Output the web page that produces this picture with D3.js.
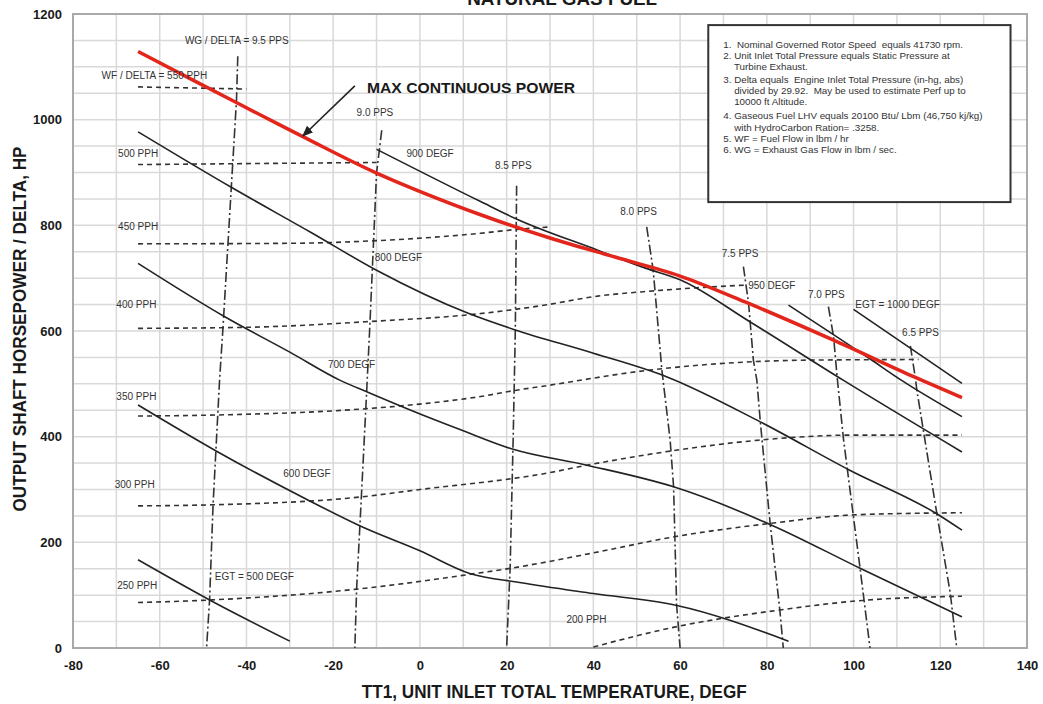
<!DOCTYPE html>
<html>
<head>
<meta charset="utf-8">
<style>
  body { margin: 0; background: #fff; }
  svg { font-family: "Liberation Sans", Arial, sans-serif; display: block; }
  .grid line { stroke: #d9d9d9; stroke-width: 1.5; }
  .axis text { font-size: 13px; font-weight: bold; fill: #1a1a1a; }
  .egt { fill: none; stroke: #222; stroke-width: 1.6; }
  .wf { fill: none; stroke: #333; stroke-width: 1.6; stroke-dasharray: 5,4; }
  .wg { fill: none; stroke: #333; stroke-width: 1.6; stroke-dasharray: 10,3,2,3; }
  .mcp { fill: none; stroke: #e3261c; stroke-width: 3.5; }
  .lbl { font-size: 10px; fill: #333; }
  .note { font-size: 9.8px; fill: #333; }
  .title { font-weight: bold; fill: #1a1a1a; }
</style>
</head>
<body>
<div id="chart"></div>
<script src="https://d3js.org/d3.v7.min.js"></script>
<script>
// axis ticks
var xTicks = [-80, -60, -40, -20, 0, 20, 40, 60, 80, 100, 120, 140];
var yTicks = [0, 200, 400, 600, 800, 1000, 1200];

// max continuous power (red)
var maxPower = [[-65,1129],[-42,1031],[-27,968],[-10,899],[14,820],[30,776],[45,740],[60,704],[75,655],[95,584],[114,513],[125,474]];

// EGT lines (solid)
var egt500 = [[-65,167],[-48.5,91],[-30,13]];
var egt600 = [[-65,460],[-47,373],[-26.5,283],[-13.5,230],[0,184],[11.5,141],[23,124],[40,103],[59,81],[85,13]];
var egt700 = [[-65,728],[-45,627],[-30,560],[-18.5,507],[-12,484],[1.5,438],[10,411],[21.5,376],[38.5,346],[58.5,305],[81,233],[101.5,151],[125,59]];
var egt800 = [[-65,977],[-43.5,872],[-25,786],[-10,715],[11,634],[22,602],[40,558],[57,513],[78.5,428],[99,337],[119,255],[125,223]];
var egt900 = [[-10,944],[14,845],[22,813],[41,753],[52,719],[60,697],[76,618],[97.6,507],[125,371]];
var egt950 = [[85,649],[104,546],[111,507],[125,438]];
var egt1000 = [[100,641],[125,501]];

// WF / DELTA fuel flow lines (dashed)
var wf550 = [[-65,1062],[-40,1058]];
var wf500 = [[-65,915],[-10,919]];
var wf450 = [[-65,765],[-30,766],[-10,771],[14,785],[22,792],[30,797]];
var wf400 = [[-65,605],[-40,607],[-11.5,618],[14,633],[28,648],[41,666],[54,676],[75,687]];
var wf350 = [[-65,439],[-47,441],[-14,452],[1.5,463],[14,476],[21.5,487],[28,495],[53,526],[77,542],[91,545],[115,546]];
var wf300 = [[-65,269],[-48,271],[-13.5,286],[0,300],[21.5,321],[28,329],[38.5,346],[58,373],[79,394],[100,403],[125,403]];
var wf250 = [[-65,86],[-48,91],[-15,111],[12,140],[21,151],[28,161],[40,180],[59,211],[81,236],[100,252],[125,256]];
var wf200 = [[40,2],[59,40],[83,72],[102,90],[125,98]];

// WG / DELTA gas flow lines (dash-dot)
var wg95 = [[-42,1120],[-42.3,1037],[-45.4,608],[-46.2,507],[-47.7,271],[-48.5,91],[-49.2,0]];
var wg90 = [[-8.8,980],[-10,899],[-11.5,618],[-12.3,482],[-13.5,286],[-14.6,111],[-15,0]];
var wg85 = [[22.3,875],[22,600],[21.5,394],[20.8,150],[20,0]];
var wg80 = [[52.3,797],[53.8,715],[55.8,526],[57.7,394],[58.5,305],[59.2,81],[60,0]];
var wg75 = [[74.6,722],[75.8,652],[76.9,545],[77.7,507],[78.5,428],[80.8,233],[83,72],[83.8,0]];
var wg70 = [[94.2,646],[95.4,589],[96.2,514],[97.7,394],[101.5,151],[103.8,0]];
var wg65 = [[113.1,572],[114.2,514],[114.6,488],[119.2,255],[122.3,104],[123.8,0]];

// curve labels: text, temperature, power
var labels = [
  ["WG / DELTA = 9.5 PPS", -54.2, 1143],
  ["WF / DELTA = 550 PPH", -73.4, 1077],
  ["9.0 PPS", -14.6, 1007],
  ["900 DEGF", -3.1, 930],
  ["500 PPH", -69.6, 930],
  ["8.5 PPS", 17.3, 907],
  ["450 PPH", -69.6, 791],
  ["800 DEGF", -10.4, 733],
  ["400 PPH", -70, 644],
  ["700 DEGF", -21.2, 530],
  ["350 PPH", -70, 469],
  ["600 DEGF", -31.5, 324],
  ["300 PPH", -70.4, 303],
  ["EGT = 500 DEGF", -47.3, 129],
  ["250 PPH", -69.8, 112],
  ["200 PPH", 33.8, 47],
  ["8.0 PPS", 46.2, 820],
  ["7.5 PPS", 69.6, 741],
  ["950 DEGF", 75.7, 680],
  ["7.0 PPS", 89.5, 663],
  ["EGT = 1000 DEGF", 100.4, 643],
  ["6.5 PPS", 111.2, 591]
];

var notes = [
  "1.  Nominal Governed Rotor Speed  equals 41730 rpm.",
  "2. Unit Inlet Total Pressure equals Static Pressure at",
  "    Turbine Exhaust.",
  "3. Delta equals  Engine Inlet Total Pressure (in-hg, abs)",
  "    divided by 29.92.  May be used to estimate Perf up to",
  "    10000 ft Altitude.",
  "4. Gaseous Fuel LHV equals 20100 Btu/ Lbm (46,750 kj/kg)",
  "    with HydroCarbon Ration= .3258.",
  "5. WF = Fuel Flow in lbm / hr",
  "6. WG = Exhaust Gas Flow in lbm / sec."
];

var margin = {top: 14, right: 16, bottom: 56, left: 73},
    width = 1043 - margin.left - margin.right,
    height = 704 - margin.top - margin.bottom;

var x = d3.scaleLinear().domain([-80, 140]).range([0, width]);
var y = d3.scaleLinear().domain([0, 1200]).range([height, 0]);

var root = d3.select("#chart").append("svg")
    .attr("width", 1043)
    .attr("height", 704);

var svg = root.append("g")
    .attr("transform", "translate(" + margin.left + "," + margin.top + ")");

// title, cut off at the top edge as in the original scan
root.append("text")
    .attr("class", "title")
    .attr("x", margin.left + x(32.8))
    .attr("y", 4.5)
    .attr("text-anchor", "middle")
    .style("font-size", "19px")
    .attr("textLength", 190)
    .attr("lengthAdjust", "spacingAndGlyphs")
    .text("NATURAL GAS FUEL");

// grid
var grid = svg.append("g").attr("class", "grid");
grid.selectAll(".vx").data(d3.range(-80, 141, 10)).enter().append("line")
    .attr("x1", function(d) { return x(d); })
    .attr("x2", function(d) { return x(d); })
    .attr("y1", 0).attr("y2", height);
grid.selectAll(".hy").data(d3.range(0, 1201, 50)).enter().append("line")
    .attr("y1", function(d) { return y(d); })
    .attr("y2", function(d) { return y(d); })
    .attr("x1", 0).attr("x2", width);

svg.append("rect")
    .attr("width", width).attr("height", height)
    .attr("fill", "none").attr("stroke", "#a9a9a9").attr("stroke-width", 2);

// notes box
var bx0 = x(66.5), bx1 = x(136.2), by0 = y(1179), by1 = y(844);
svg.append("rect")
    .attr("x", bx0).attr("y", by0)
    .attr("width", bx1 - bx0).attr("height", by1 - by0)
    .attr("fill", "#fff").attr("stroke", "#333").attr("stroke-width", 2);

var noteY = [22.5, 33.5, 44.5, 57.5, 69, 80, 94, 105.5, 116.5, 128];
svg.selectAll(".note").data(notes).enter().append("text")
    .attr("class", "note")
    .attr("x", bx0 + 15)
    .attr("y", function(d, i) { return by0 + noteY[i]; })
    .attr("xml:space", "preserve")
    .style("white-space", "pre")
    .text(function(d) { return d; });

// axes
var xAxis = svg.append("g")
    .attr("class", "axis")
    .attr("transform", "translate(0," + height + ")")
    .call(d3.axisBottom(x).tickValues(xTicks).tickSize(0).tickPadding(13)
      .tickFormat(function(d) { return String(d); }));
xAxis.select(".domain").remove();

var yAxis = svg.append("g")
    .attr("class", "axis")
    .call(d3.axisLeft(y).tickValues(yTicks).tickSize(0).tickPadding(11)
      .tickFormat(function(d) { return String(d); }));
yAxis.select(".domain").remove();

svg.append("text")
    .attr("class", "title")
    .attr("x", x(31))
    .attr("y", height + 50)
    .attr("text-anchor", "middle")
    .style("font-size", "19px")
    .attr("textLength", 385)
    .attr("lengthAdjust", "spacingAndGlyphs")
    .text("TT1, UNIT INLET TOTAL TEMPERATURE, DEGF");

svg.append("text")
    .attr("class", "title")
    .attr("transform", "translate(" + (-47) + "," + (y(600) - 2) + ") rotate(-90)")
    .attr("text-anchor", "middle")
    .style("font-size", "17.5px")
    .attr("textLength", 365)
    .attr("lengthAdjust", "spacingAndGlyphs")
    .text("OUTPUT SHAFT HORSEPOWER / DELTA, HP");

// lines
var smooth = d3.line()
    .x(function(d) { return x(d[0]); })
    .y(function(d) { return y(d[1]); })
    .curve(d3.curveMonotoneX);

var straight = d3.line()
    .x(function(d) { return x(d[0]); })
    .y(function(d) { return y(d[1]); });

[wf550, wf500, wf450, wf400, wf350, wf300, wf250, wf200].forEach(function(s) {
  svg.append("path").attr("class", "wf").attr("d", smooth(s));
});

[wg95, wg90, wg85, wg80, wg75, wg70, wg65].forEach(function(s) {
  svg.append("path").attr("class", "wg").attr("d", straight(s));
});

[egt500, egt600, egt700, egt800, egt900, egt950, egt1000].forEach(function(s) {
  svg.append("path").attr("class", "egt").attr("d", smooth(s));
});

svg.append("path").attr("class", "mcp")
    .attr("d", smooth.curve(d3.curveCatmullRom)(maxPower));

// labels
svg.selectAll(".lbl").data(labels).enter().append("text")
    .attr("class", "lbl")
    .attr("x", function(d) { return x(d[1]); })
    .attr("y", function(d) { return y(d[2]); })
    .text(function(d) { return d[0]; });

// max continuous power callout
svg.append("defs").append("marker")
    .attr("id", "arrow")
    .attr("viewBox", "0 0 10 10")
    .attr("refX", 9).attr("refY", 5)
    .attr("markerWidth", 7).attr("markerHeight", 7)
    .attr("orient", "auto")
  .append("path")
    .attr("d", "M0,1 L10,5 L0,9 Z")
    .attr("fill", "#222");

svg.append("line")
    .attr("x1", x(-15)).attr("y1", y(1064))
    .attr("x2", x(-27)).attr("y2", y(969))
    .attr("stroke", "#222").attr("stroke-width", 1.6)
    .attr("marker-end", "url(#arrow)");

svg.append("text")
    .attr("class", "title")
    .attr("x", x(-12.2))
    .attr("y", y(1050))
    .style("font-size", "15.5px")
    .attr("textLength", 208)
    .attr("lengthAdjust", "spacingAndGlyphs")
    .text("MAX CONTINUOUS POWER");
</script>
</body>
</html>
